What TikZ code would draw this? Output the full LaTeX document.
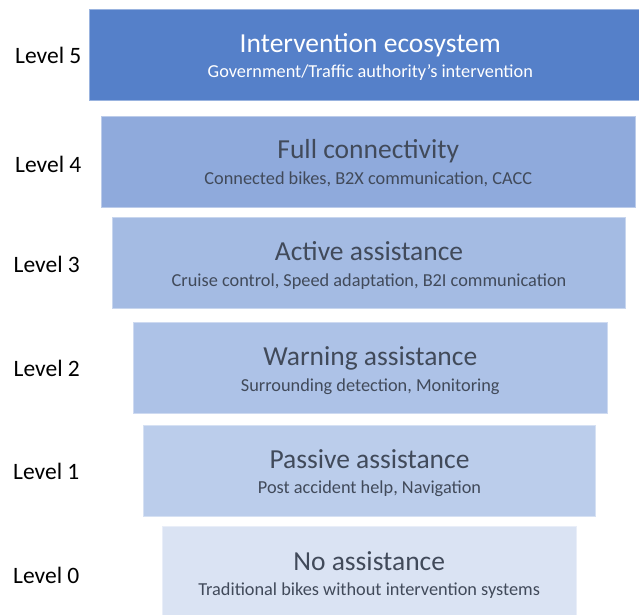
\documentclass[tikz,border=0pt]{standalone}
\usepackage{fontspec}
\setmainfont{Carlito}
\usetikzlibrary{positioning}

\definecolor{lvlfive}{HTML}{5580C9}
\definecolor{lvlfour}{HTML}{8FAADC}
\definecolor{lvlthree}{HTML}{A4BBE3}
\definecolor{lvltwo}{HTML}{ADC2E7}
\definecolor{lvlone}{HTML}{BBCDEB}
\definecolor{lvlzero}{HTML}{DAE3F3}
\definecolor{textgray}{HTML}{414A5A}

\begin{document}
\begin{tikzpicture}[
    x=1pt, y=-1pt,
    levelbox/.style={
        draw=#1!60!white,
        fill=#1,
        line width=0.8pt,
        inner sep=0pt,
        minimum height=91pt
    },
    ttl/.style={
        anchor=base,
        inner sep=0pt,
        text=textgray,
        font=\fontsize{27.5}{30}\selectfont
    },
    sub/.style={
        anchor=base,
        inner sep=0pt,
        text=textgray,
        font=\fontsize{18.3}{21}\selectfont
    },
    lvlname/.style={
        anchor=base west,
        inner sep=0pt,
        font=\fontsize{23.5}{26}\selectfont,
        text=black
    }
]
\useasboundingbox (0,0) rectangle (639,614);

% the six stacked levels
\node[levelbox=lvlfive, minimum width=549.5pt] (five) at (364.3,54.5) {};
\node[levelbox=lvlfour, minimum width=534.7pt] (four) at (368.3,161.5) {};
\node[levelbox=lvlthree, minimum width=513.4pt] (three) at (369,263.3) {};
\node[levelbox=lvltwo, minimum width=474pt] (two) at (370.3,368.2) {};
\node[levelbox=lvlone, minimum width=452.4pt] (one) at (369.5,470.9) {};
\node[levelbox=lvlzero, minimum width=413.7pt] (zero) at (369.2,572.3) {};

% titles and descriptions
\node[ttl, text=white] (five-t) at ([xshift=6pt,yshift=2pt]five.center) {Intervention ecosystem};
\node[sub, text=white] (five-s) at ([xshift=6pt,yshift=-23pt]five.center) {Government/Traffic authority’s intervention};
\node[ttl] (four-t) at ([yshift=3pt]four.center) {Full connectivity};
\node[sub] (four-s) at ([yshift=-23pt]four.center) {Connected bikes, B2X communication, CACC};
\node[ttl] (three-t) at ([yshift=2.5pt]three.center) {Active assistance};
\node[sub] (three-s) at ([yshift=-23pt]three.center) {Cruise control, Speed adaptation, B2I communication};
\node[ttl] (two-t) at ([yshift=2.5pt]two.center) {Warning assistance};
\node[sub] (two-s) at ([yshift=-23pt]two.center) {Surrounding detection, Monitoring};
\node[ttl] (one-t) at ([yshift=2.5pt]one.center) {Passive assistance};
\node[sub] (one-s) at ([yshift=-23pt]one.center) {Post accident help, Navigation};
\node[ttl] (zero-t) at ([yshift=2.3pt]zero.center) {No assistance};
\node[sub] (zero-s) at ([yshift=-22.7pt]zero.center) {Traditional bikes without intervention systems};

% level names on the left
\node[lvlname] (l5) at (15,63.5) {Level 5};
\node[lvlname] (l4) at (15,172.5) {Level 4};
\node[lvlname] (l3) at (13.5,272.5) {Level 3};
\node[lvlname] (l2) at (13.5,376.5) {Level 2};
\node[lvlname] (l1) at (13,479) {Level 1};
\node[lvlname] (l0) at (13,583.5) {Level 0};

\end{tikzpicture}
\end{document}
